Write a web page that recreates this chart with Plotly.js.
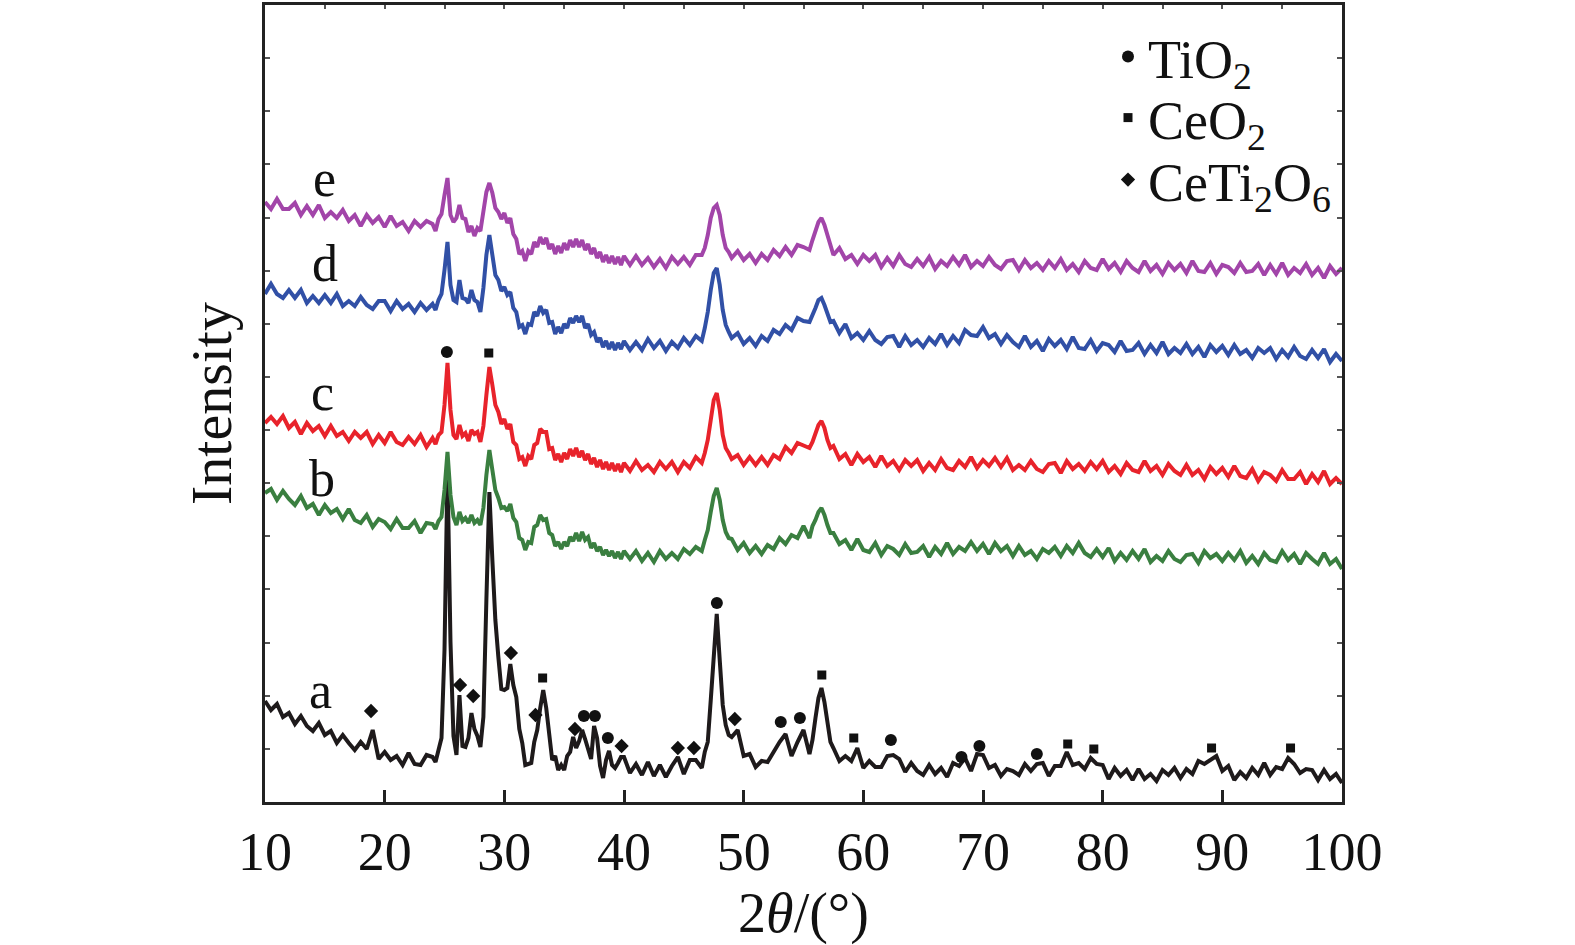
<!DOCTYPE html>
<html>
<head>
<meta charset="utf-8">
<script src="https://cdn.plot.ly/plotly-3.0.1.min.js"></script>
<style>html,body{margin:0;padding:0;background:#fff;}#chart{width:1575px;height:945px;}</style>
</head>
<body>
<div id="chart"></div>
<script>
// 2θ sampling (degrees)
const twoTheta = [
 10,10.5,11,11.5,12,12.5,13,13.5,14,14.5,15,15.5,16,16.5,17,17.5,18,18.5,19,19.5,20,20.5,21,21.5,22,22.5,23,23.5,
 24,24.25,24.5,24.75,25,25.25,25.5,25.75,26,26.25,26.5,26.75,27,27.25,27.5,27.75,28,28.25,28.5,28.75,29,29.25,29.5,29.75,30,30.25,30.5,30.75,31,31.25,31.5,31.75,32,32.25,32.5,32.75,33,33.25,33.5,33.75,34,34.25,34.5,34.75,35,35.25,35.5,35.75,36,36.25,36.5,36.75,37,37.25,37.5,37.75,38,38.25,38.5,38.75,39,39.25,39.5,39.75,
 40,40.5,41,41.5,42,42.5,43,43.5,44,44.5,45,45.5,46,
 46.5,46.75,47,47.25,47.5,47.75,48,48.25,48.5,48.75,
 49,49.5,50,50.5,51,51.5,52,52.5,53,53.5,54,54.5,55,
 55.5,55.75,56,56.25,56.5,56.75,57,57.25,
 57.5,58,58.5,59,59.5,60,60.5,61,61.5,62,62.5,63,63.5,64,64.5,65,65.5,66,66.5,67,67.5,68,68.5,69,69.5,70,70.5,71,71.5,72,72.5,73,73.5,74,74.5,75,75.5,76,76.5,77,77.5,78,78.5,79,79.5,80,80.5,81,81.5,82,82.5,83,83.5,84,84.5,85,85.5,86,86.5,87,87.5,88,88.5,89,89.5,90,90.5,91,91.5,92,92.5,93,93.5,94,94.5,95,95.5,96,96.5,97,97.5,98,98.5,99,99.5,100
];

// displayed intensity of each pattern (stacked, arbitrary units)
const seriesA = [
 101,92,98,85,89,78,86,76,71,79,67,71,59,67,59,52,60,53,72,43,50,42,46,37,49,38,37,47,
 45,40,52,64,152,332,160,66,47,107,56,55,64,89,73,66,55,85,202,310,242,182,145,113,112,114,138,117,105,73,59,37,38,39,60,72,94,112,94,69,42,46,32,37,32,46,50,65,54,61,72,63,52,43,76,64,36,24,42,51,37,34,39,45,
 45,29,38,27,40,26,37,25,36,45,28,42,42,
 34,50,60,102,152,188,142,97,77,67,
 65,72,46,48,35,41,40,51,60,68,46,60,72,
 48,62,84,104,114,100,80,60,
 54,41,46,41,54,34,41,35,35,46, 47,43,30,39,31,27,37,28,34,25, 39,36,44,31,48,47,34,37,26,33, 31,27,38,31,38,39,26,36,36,50, 37,39,33,44,38,37,23,34,26,32, 22,33,23,28,21,32,27,34,24,33, 28,41,38,42,46,31,36,22,30,24, 34,27,39,27,35,33,44,38,29,33, 32,22,32,23,28,19
];
const seriesB = [
 309,313,302,311,303,297,306,294,298,287,297,289,293,283,293,282,279,287,275,283,280,273,283,274,274,281,269,279,
 278,273,281,285,312,350,307,285,277,290,281,284,279,287,279,282,277,294,327,352,332,312,304,294,295,291,298,284,280,264,262,252,260,259,275,277,287,282,283,269,267,256,260,253,260,256,265,261,269,261,270,262,265,254,259,251,255,247,252,246,251,244,250,243,
 251,243,251,241,249,240,251,243,249,243,253,248,255,
 251,262,272,290,306,314,302,282,270,264,
 263,252,259,249,256,248,257,253,264,258,267,264,276,
 264,276,282,290,294,287,277,269,
 269,258,262,252,263,252,250,259,247,256, 253,247,258,249,250,256,245,255,248,259, 248,255,251,260,251,258,248,259,251,256, 246,256,247,251,243,253,249,255,246,256, 249,259,249,245,253,245,254,241,249,242, 251,243,253,240,246,241,251,243,240,247, 248,239,251,244,248,241,249,242,251,239, 246,238,249,242,240,251,242,248,238,249, 243,238,249,238,243,233
];
const seriesC = [
 379,385,378,386,374,380,368,379,371,376,366,376,366,370,361,370,364,370,358,367,359,370,360,357,365,358,367,355,
 364,358,367,370,397,439,392,367,363,377,366,369,361,372,368,370,360,376,407,435,417,397,390,378,383,373,378,360,357,343,345,336,346,343,357,359,373,370,370,353,354,342,348,340,349,343,353,346,354,345,351,342,348,338,344,335,342,333,340,332,339,331,338,330,
 339,331,341,332,337,330,340,333,340,330,340,334,345,
 339,349,362,382,402,409,392,367,354,349,
 343,347,337,345,337,345,337,347,343,355,349,359,357,
 354,360,370,377,381,374,362,354,
 356,343,348,337,348,340,345,335,346,336, 341,332,342,336,342,331,339,332,343,334, 332,341,335,345,334,342,336,344,335,344, 332,337,332,341,333,330,338,339,329,341, 333,338,331,340,333,341,330,336,328,339, 332,330,341,331,336,327,338,331,327,337, 327,332,323,335,328,334,325,336,326,324, 333,321,330,327,321,332,323,323,330,318, 328,320,331,318,324,318
];
const seriesD = [
 508,518,508,504,512,504,512,499,506,499,507,499,508,496,501,496,505,497,493,501,501,491,501,493,498,490,499,492,
 498,492,502,508,532,560,517,502,500,522,504,503,499,512,502,500,490,514,547,567,547,527,522,511,515,507,510,494,490,475,477,468,478,477,490,486,496,489,492,479,480,468,475,469,478,474,484,479,486,480,486,474,478,467,470,460,464,455,461,453,460,452,459,453,
 461,452,460,452,463,454,461,451,460,454,464,457,466,
 461,474,490,512,529,534,517,492,477,470,
 464,469,458,464,456,466,461,472,468,477,472,484,481,
 480,486,494,502,504,497,487,480,
 481,469,478,464,469,462,471,462,458,465, 466,455,466,457,462,455,464,458,468,457, 466,459,472,467,466,475,464,468,458,467, 460,455,466,455,461,451,463,456,462,453, 465,454,453,462,451,459,457,450,461,451, 452,459,448,457,449,460,448,454,449,458, 448,455,445,457,450,456,447,457,448,452, 444,454,449,454,443,452,445,455,446,443, 452,444,453,440,448,441
];
const seriesE = [
 600,593,603,593,593,599,587,596,587,597,584,590,584,592,581,587,576,587,579,585,575,586,576,580,571,581,575,581,
 578,571,583,588,607,624,587,580,584,597,584,583,570,576,566,574,571,592,610,619,609,594,590,583,589,579,584,568,563,548,551,541,551,548,560,555,565,558,564,553,558,548,556,549,559,552,562,555,563,555,562,552,558,548,554,544,550,540,547,539,546,538,545,537,
 546,537,546,537,544,535,543,534,545,538,545,537,547,
 547,554,567,584,594,597,587,567,554,550,
 544,551,542,548,539,548,542,552,546,555,547,557,555,
 552,562,572,580,584,577,567,558,
 547,554,543,547,538,547,541,547,535,544, 536,547,538,535,543,536,545,533,541,536, 545,537,547,535,541,536,545,537,533,541, 542,532,542,534,539,532,541,534,543,532, 538,530,541,534,532,543,533,539,530,541, 534,530,541,531,537,528,539,532,538,529, 541,531,530,539,528,537,535,529,539,530, 531,538,527,537,528,539,527,534,529,538, 527,534,524,536,528,534
];

const seriesNames = ['a','b','c','d','e'];
const seriesColors = ['#1e1a1b','#3a7f40','#e8232b','#3150a6','#a245a9'];

// phase reflection markers
const tio2X = [25.2, 36.65, 37.57, 38.65, 47.76, 53.1, 54.7, 62.3, 68.2, 69.7, 74.5];
const tio2Y = [450, 86, 86, 64, 199, 80, 84, 62, 45, 56, 48];
const ceo2X = [28.7, 33.2, 56.53, 59.2, 77.08, 79.26, 89.1, 95.7];
const ceo2Y = [449, 124, 127, 64, 58, 53, 54, 54];
const cetiX = [18.86, 26.3, 27.4, 30.55, 32.6, 35.9, 39.8, 44.5, 45.84, 49.26];
const cetiY = [91, 117, 106, 149, 87, 73, 56, 54, 54, 83];

const xTicks = [10,20,30,40,50,60,70,80,90,100];

const FONT = 'Liberation Serif, Times New Roman, serif';
const allSeries = [seriesA, seriesB, seriesC, seriesD, seriesE];

const traces = allSeries.map((ys, i) => ({
  type: 'scatter', mode: 'lines', x: twoTheta, y: ys,
  line: {color: seriesColors[i], width: 4}, showlegend: false, hoverinfo: 'skip'
}));

traces.push({type:'scatter', mode:'markers', x: tio2X, y: tio2Y, name:'TiO<sub>2</sub>', legend:'legend',
  marker:{symbol:'circle', size:12, color:'#111'}});
traces.push({type:'scatter', mode:'markers', x: ceo2X, y: ceo2Y, name:'CeO<sub>2</sub>', legend:'legend2',
  marker:{symbol:'square', size:9, color:'#111'}});
traces.push({type:'scatter', mode:'markers', x: cetiX, y: cetiY, name:'CeTi<sub>2</sub>O<sub>6</sub>', legend:'legend3',
  marker:{symbol:'diamond', size:11, color:'#111'}});
// carrier for the top axis
traces.push({type:'scatter', mode:'lines', x:[10,100], y:[null,null], xaxis:'x2', yaxis:'y', showlegend:false, hoverinfo:'skip'});

const labelPos = [[14.6,112],[14.8,324],[14.8,410],[15.0,539],[15.0,624]];
const annotations = seriesNames.map((n,i)=>({
  x: labelPos[i][0], y: labelPos[i][1], xref:'x', yref:'y', text:n, showarrow:false,
  font:{family:FONT, size:52, color:'#111'}
}));

function legendAt(py) {
  return {x:(1108-265)/1077, y:1-(py-5)/797, xanchor:'left', yanchor:'middle',
    font:{family:FONT, size:54, color:'#111'}, bgcolor:'rgba(0,0,0,0)', itemsizing:'trace'};
}

const layout = {
  width:1575, height:945,
  margin:{l:265, r:233, t:5, b:143},
  paper_bgcolor:'#fff', plot_bgcolor:'#fff',
  font:{family:FONT, color:'#111'},
  xaxis:{range:[10,100], tickvals:xTicks, ticks:'inside', ticklen:12, tickwidth:3, tickcolor:'#222',
    showline:true, linewidth:3, linecolor:'#222', showgrid:false, zeroline:false,
    tickfont:{family:FONT, size:54, color:'#111'},
    title:{text:'2<i>θ</i>/(°)', font:{family:FONT, size:56, color:'#111'}, standoff:0}},
  xaxis2:{range:[10,100], overlaying:'x', side:'top', anchor:'y', dtick:5, tick0:10, ticks:'inside', ticklen:4, tickwidth:2,
    tickcolor:'#555', showline:true, linewidth:3, linecolor:'#222', showticklabels:false, showgrid:false, zeroline:false},
  yaxis:{range:[0,797], tick0:0, dtick:797/15, ticks:'inside', ticklen:5, tickwidth:2, tickcolor:'#555',
    showline:true, linewidth:3, linecolor:'#222', mirror:'ticks', showticklabels:false, showgrid:false, zeroline:false,
    title:{text:'Intensity', font:{family:FONT, size:58, color:'#111'}, standoff:12}},
  legend: legendAt(57),
  legend2: legendAt(118),
  legend3: legendAt(180),
  showlegend:true,
  annotations: annotations
};

Plotly.newPlot('chart', traces, layout, {staticPlot:true, displayModeBar:false});
</script>
</body>
</html>
